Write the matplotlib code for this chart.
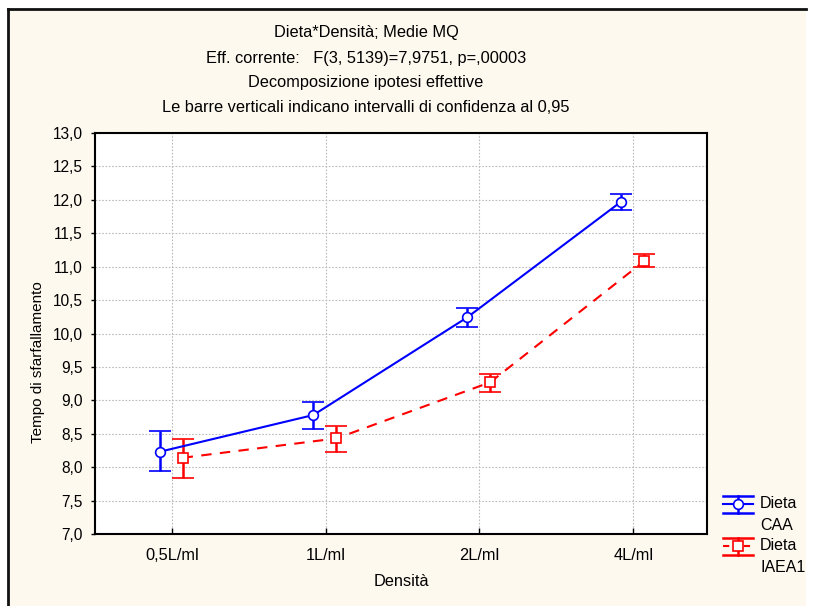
import matplotlib
matplotlib.use("Agg")
import matplotlib.pyplot as plt
from matplotlib.lines import Line2D
from matplotlib.patches import Rectangle
import numpy as np

plt.rcParams['font.family'] = ['Liberation Sans', 'DejaVu Sans']

# Data
densita = ["0,5L/ml", "1L/ml", "2L/ml", "4L/ml"]
caa_mean = [8.23, 8.78, 10.24, 11.97]
caa_low = [7.95, 8.57, 10.09, 11.85]
caa_high = [8.54, 8.98, 10.38, 12.08]
iaea_mean = [8.14, 8.43, 9.27, 11.08]
iaea_low = [7.84, 8.22, 9.12, 11.00]
iaea_high = [8.42, 8.62, 9.40, 11.19]
y_ticks = [7.0, 7.5, 8.0, 8.5, 9.0, 9.5, 10.0, 10.5, 11.0, 11.5, 12.0, 12.5, 13.0]

W, H = 816, 606
fig = plt.figure(figsize=(W / 100, H / 100), dpi=100)
fig.patch.set_facecolor("white")


def fx(x):
    return x / W


def fy(y):
    return 1 - y / H


cream = "#FEF9EF"
fig.add_artist(Rectangle((fx(8), 0), fx(806) - fx(8), fy(9), transform=fig.transFigure,
                         facecolor=cream, edgecolor="none", zorder=0))
fig.add_artist(Line2D([fx(8), fx(806)], [fy(9), fy(9)], transform=fig.transFigure,
                      color="#111111", lw=2.0, zorder=1))
fig.add_artist(Line2D([fx(8), fx(8)], [fy(9), 0], transform=fig.transFigure,
                      color="#111111", lw=2.0, zorder=1))

ax = fig.add_axes([fx(95), fy(534), fx(707) - fx(95), fy(133) - fy(534)])
ax.set_facecolor("white")

x = np.arange(len(densita))
off_caa, off_iaea = -0.08, 0.07
blue, red = "#0000FF", "#FF0000"

ax.errorbar(x + off_caa, caa_mean,
            yerr=[np.array(caa_mean) - np.array(caa_low), np.array(caa_high) - np.array(caa_mean)],
            color=blue, lw=1.5, marker="o", ms=7, mfc="white", mec=blue, mew=1.2,
            capsize=8, capthick=1.8, elinewidth=1.8, zorder=4)
ax.errorbar(x + off_iaea, iaea_mean,
            yerr=[np.array(iaea_mean) - np.array(iaea_low), np.array(iaea_high) - np.array(iaea_mean)],
            color=red, lw=1.5, ls=(0, (5, 4)), marker="s", ms=7, mfc="white", mec=red, mew=1.2,
            capsize=8, capthick=1.8, elinewidth=1.8, zorder=3)

ax.set_xlim(-0.5, 3.48)
ax.set_ylim(7.0, 13.0)
ax.set_yticks(y_ticks)
ax.set_yticklabels([f"{v:.1f}".replace(".", ",") for v in y_ticks], fontsize=11.2)
ax.set_xticks(x)
ax.set_xticklabels(densita, fontsize=11.8)
ax.tick_params(axis="y", direction="out", length=3, width=1, pad=6)
ax.tick_params(axis="x", direction="in", length=4, width=1, pad=10)
ax.grid(True, color="#BBBBBB", ls=(0, (1.5, 1.5)), lw=0.8)
ax.set_axisbelow(True)
for s in ax.spines.values():
    s.set_color("black")
    s.set_linewidth(1.5)

ax.set_xlabel("Densità", fontsize=11.8, labelpad=8)
fig.text(fx(38), fy(362), "Tempo di sfarfallamento", rotation=90, ha="center", va="center", fontsize=11)

titles = ["Dieta*Densità; Medie MQ",
          "Eff. corrente:   F(3, 5139)=7,9751, p=,00003",
          "Decomposizione ipotesi effettive",
          "Le barre verticali indicano intervalli di confidenza al 0,95"]
for i, t in enumerate(titles):
    fig.text(fx(366), fy(33 + 25 * i), t, ha="center", va="center", fontsize=11.8)


# Legend drawn in figure pixels
def legend_entry(yc, color, ls, marker, line1, line2):
    x0, x1, xm = 723, 753, 738
    tr = fig.transFigure
    fig.add_artist(Line2D([fx(x0), fx(x1)], [fy(yc), fy(yc)], transform=tr, color=color, lw=1.5, ls=ls))
    fig.add_artist(Line2D([fx(x0), fx(x1)], [fy(yc - 8.5), fy(yc - 8.5)], transform=tr, color=color, lw=1.8))
    fig.add_artist(Line2D([fx(x0), fx(x1)], [fy(yc + 8.5), fy(yc + 8.5)], transform=tr, color=color, lw=1.8))
    fig.add_artist(Line2D([fx(xm), fx(xm)], [fy(yc - 8.5), fy(yc + 8.5)], transform=tr, color=color, lw=1.8))
    fig.add_artist(Line2D([fx(xm)], [fy(yc)], transform=tr, color=color, marker=marker, ms=7,
                          mfc="white", mec=color, mew=1.2, ls="none"))
    fig.text(fx(760), fy(yc), line1, ha="left", va="center", fontsize=11.5)
    fig.text(fx(760), fy(yc + 21), line2, ha="left", va="center", fontsize=11.5)


legend_entry(504, blue, "-", "o", "Dieta", "CAA")
legend_entry(546, red, (0, (3, 2)), "s", "Dieta", "IAEA1")

fig.savefig("out.png", dpi=100, facecolor=fig.get_facecolor())
